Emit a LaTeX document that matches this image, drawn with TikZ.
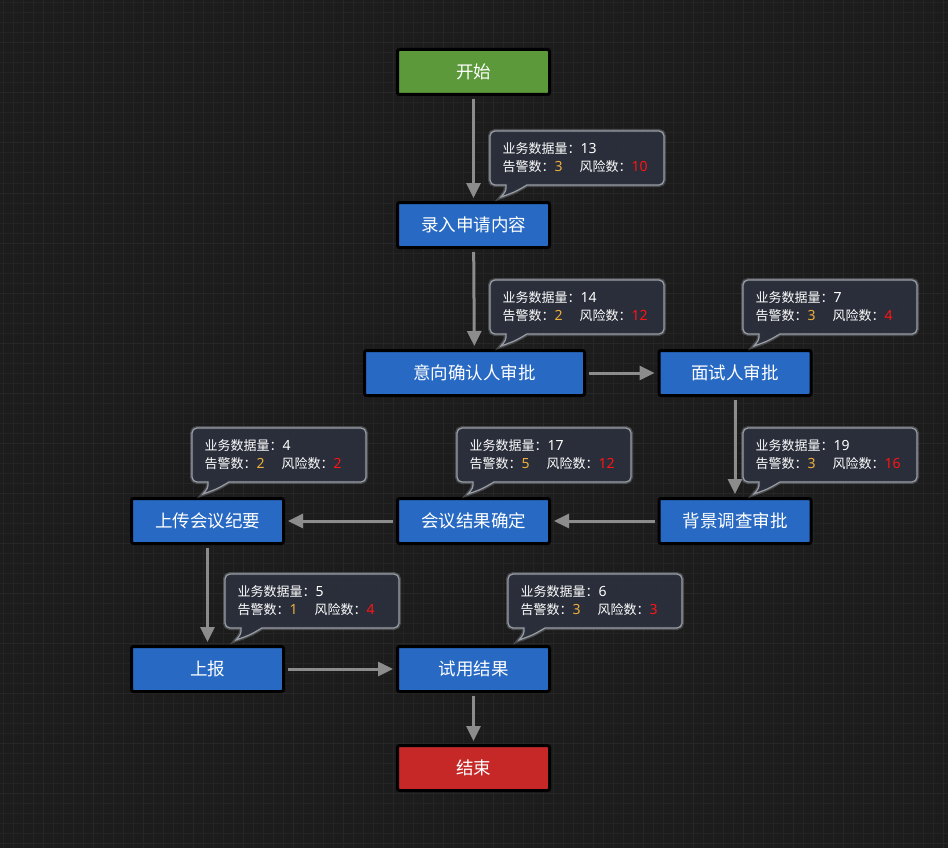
\documentclass[tikz,border=0pt]{standalone}
\usepackage{fontspec}
\setmainfont{Noto Sans CJK SC}
\newfontfamily\numfont{Noto Sans}
\usetikzlibrary{arrows.meta}

\definecolor{canvas}{HTML}{1C1C1C}
\definecolor{gridline}{HTML}{242424}
\definecolor{gridmajor}{HTML}{272727}
\definecolor{taskblue}{HTML}{2769C3}
\definecolor{startgreen}{HTML}{5C993B}
\definecolor{endred}{HTML}{C62828}
\definecolor{flowgray}{HTML}{8C8C8C}
\definecolor{tipfill}{HTML}{2B303C}
\definecolor{tipedge}{HTML}{9A9EA6}
\definecolor{warnnum}{HTML}{EDAE3C}
\definecolor{risknum}{HTML}{FF1414}

\tikzset{
  task/.style={draw=black, line width=3pt, rounded corners=2pt, fill=taskblue,
    text=white, font=\fontsize{17.5}{20}\selectfont, inner sep=0pt,
    minimum width=152pt, minimum height=45pt},
  wide/.style={minimum width=220pt},
  flow/.style={draw=flowgray, line width=3pt,
    -{Triangle[length=15pt,width=14pt]}, shorten <=3pt, shorten >=3pt},
  tipglow/.style={draw=tipedge, draw opacity=0.35, line width=4pt},
  tipbody/.style={fill=tipfill, fill opacity=0.95, draw=tipedge, line width=1.2pt},
  tiptext/.style={text=white, font=\fontsize{13}{15}\selectfont, inner sep=0pt, anchor=west},
}

% figures in the callouts
\newcommand\fig[1]{{\numfont\fontsize{14}{15}\selectfont #1}}

% callout with figures: #1 name, #2 left, #3 top, #4 volume, #5 warnings, #6 risks
\newcommand\statbox[6]{%
  \def\tipshape{({#2+16},{#3+54}) [rounded corners=5pt] -- (#2,{#3+54}) -- (#2,#3)
    -- ({#2+174},#3) -- ({#2+174},{#3+54}) [sharp corners] -- ({#2+37},{#3+54})
    .. controls ({#2+25},{#3+61}) .. ({#2+11},{#3+66})
    .. controls ({#2+16},{#3+60}) .. ({#2+16},{#3+54}) -- cycle}%
  \draw[tipglow] \tipshape;
  \draw[tipbody] \tipshape;
  \node[tiptext] (#1-a) at ({#2+12.5},{#3+18}) {业务数据量：\fig{#4}};
  \node[tiptext] (#1-b) at ({#2+12.5},{#3+36})
    {\makebox[77pt][l]{告警数：\textcolor{warnnum}{\fig{#5}}}风险数：\textcolor{risknum}{\fig{#6}}};
}

\begin{document}
\begin{tikzpicture}[x=1pt, y=-1pt]
  % canvas and grid
  \fill[canvas] (0,0) rectangle (948,848);
  \useasboundingbox (0,0) rectangle (948,848);
  \foreach \i in {3,13,...,943} \draw[gridline, line width=1pt] (\i,0) -- (\i,848);
  \foreach \j in {3,13,...,843} \draw[gridline, line width=1pt] (0,\j) -- (948,\j);
  \foreach \i in {43,93,...,943} \draw[gridmajor, line width=1pt] (\i,0) -- (\i,848);
  \foreach \j in {43,93,...,843} \draw[gridmajor, line width=1pt] (0,\j) -- (948,\j);

  % process steps
  \node[task, fill=startgreen] (start) at (473.5,72)  {开始};
  \node[task] (enter)   at (473.5,225) {录入申请内容};
  \node[task, wide] (intent) at (474.5,373) {意向确认人审批};
  \node[task] (interview) at (735,373) {面试人审批};
  \node[task] (backgr)  at (735,521)   {背景调查审批};
  \node[task] (meeting) at (473.5,521) {会议结果确定};
  \node[task] (minutes) at (207.5,521) {上传会议纪要};
  \node[task] (report)  at (207.5,669) {上报};
  \node[task] (trial)   at (473.5,669) {试用结果};
  \node[task, fill=endred] (finish) at (473.5,768) {结束};

  % flow
  \draw[flow] (start) -- (enter);
  \draw[flow] (enter) -- (intent);
  \draw[flow] (intent) -- (interview);
  \draw[flow] (interview) -- (backgr);
  \draw[flow] (backgr) -- (meeting);
  \draw[flow] (meeting) -- (minutes);
  \draw[flow] (minutes) -- (report);
  \draw[flow] (report) -- (trial);
  \draw[flow] (trial) -- (finish);

  % per-step figures
  \statbox{s1}{490}{131}{13}{3}{10}
  \statbox{s2}{490}{280}{14}{2}{12}
  \statbox{s3}{743}{280}{7}{3}{4}
  \statbox{s4}{743}{428}{19}{3}{16}
  \statbox{s5}{457}{428}{17}{5}{12}
  \statbox{s6}{192}{428}{4}{2}{2}
  \statbox{s7}{225}{574}{5}{1}{4}
  \statbox{s8}{508}{574}{6}{3}{3}
\end{tikzpicture}
\end{document}
